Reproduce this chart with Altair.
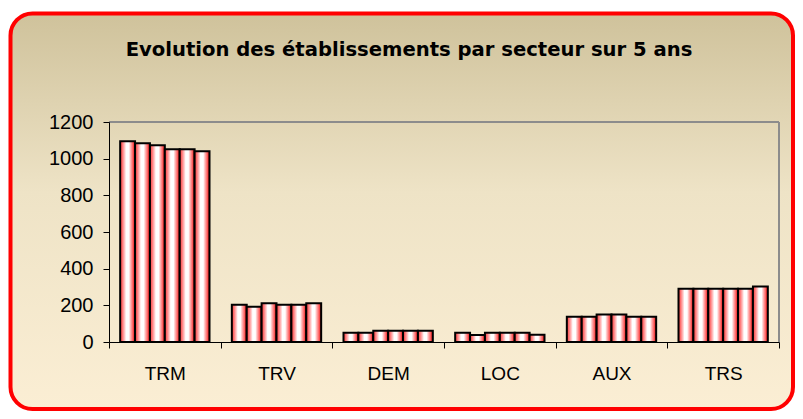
import altair as alt
import pandas as pd

# ---- data ----
categories = ["TRM", "TRV", "DEM", "LOC", "AUX", "TRS"]
years = ["2001", "2002", "2003", "2004", "2005", "2006"]
values = {
    "TRM": [1095, 1084, 1073, 1051, 1051, 1041],
    "TRV": [203, 192, 212, 203, 203, 212],
    "DEM": [50, 50, 61, 61, 61, 61],
    "LOC": [50, 38, 50, 50, 50, 40],
    "AUX": [138, 138, 150, 150, 138, 138],
    "TRS": [290, 290, 290, 290, 290, 303],
}
y_ticks = [0, 200, 400, 600, 800, 1000, 1200]
title_text = "Evolution des établissements par secteur sur 5 ans"

rows = []
for c in categories:
    for yr, v in zip(years, values[c]):
        rows.append({"secteur": c, "annee": yr, "n": v})
df = pd.DataFrame(rows)

W, H = 670, 220
PAD = {"left": 101, "top": 114, "right": 16, "bottom": 69}

one = pd.DataFrame({"k": [0]})

bg = alt.Chart(one).mark_rect(
    cornerRadius=22,
    stroke="#ff0000",
    strokeWidth=4,
    fill=alt.Gradient(
        gradient="linear", x1=0, x2=0, y1=0, y2=1,
        stops=[
            alt.GradientStop(offset=0, color="#cfc29b"),
            alt.GradientStop(offset=0.45, color="#eee3c6"),
            alt.GradientStop(offset=1, color="#fbeed4"),
        ],
    ),
).encode(
    x=alt.value(-98.5), x2=alt.value(W + PAD["right"] - 2),
    y=alt.value(-108.5), y2=alt.value(H + PAD["bottom"] - 2),
)

bar_fill = alt.Gradient(
    gradient="linear", x1=0, x2=1, y1=0, y2=0,
    stops=[
        alt.GradientStop(offset=0.0, color="#ff3c3c"),
        alt.GradientStop(offset=0.14, color="#ff7070"),
        alt.GradientStop(offset=0.3, color="#ffc4c4"),
        alt.GradientStop(offset=0.4, color="#ffffff"),
        alt.GradientStop(offset=0.58, color="#ffffff"),
        alt.GradientStop(offset=0.7, color="#ffb4b4"),
        alt.GradientStop(offset=0.85, color="#ff6060"),
        alt.GradientStop(offset=1.0, color="#d80000"),
    ],
)

bars = alt.Chart(df).mark_bar(
    fill=bar_fill, stroke="#000000", strokeWidth=2, opacity=1
).encode(
    x=alt.X(
        "secteur:N", sort=categories, title=None,
        scale=alt.Scale(paddingInner=0, paddingOuter=0),
        axis=alt.Axis(
            labelAngle=0, labelFontSize=19, labelFont="Liberation Sans",
            labelColor="#000000", labelPadding=16, tickSize=6,
            tickColor="#000000", domainColor="#000000", tickBand="extent",
            zindex=1,
        ),
    ),
    xOffset=alt.XOffset("annee:N", sort=years,
                        scale=alt.Scale(paddingInner=0, paddingOuter=0.75)),
    y=alt.Y(
        "n:Q", title=None,
        scale=alt.Scale(domain=[0, 1200], nice=False),
        axis=alt.Axis(
            values=y_ticks, format="d", labelFontSize=20,
            labelFont="Liberation Sans",
            labelColor="#000000", labelPadding=10, tickSize=6,
            tickColor="#000000", domainColor="#000000", grid=False,
            zindex=1,
        ),
    ),
)

top_rule = alt.Chart(one).mark_rule(color="#8c8c8c", strokeWidth=2).encode(
    x=alt.value(0), x2=alt.value(W), y=alt.value(0)
)
right_rule = alt.Chart(one).mark_rule(color="#8c8c8c", strokeWidth=2).encode(
    x=alt.value(W), y=alt.value(0), y2=alt.value(H)
)

title = alt.Chart(one).mark_text(
    text=title_text, font="DejaVu Sans", fontSize=19.6, fontWeight="bold",
    align="center", baseline="alphabetic", color="#000000",
).encode(x=alt.value(300), y=alt.value(-66))

chart = alt.layer(bg, bars, top_rule, right_rule, title).properties(
    width=W, height=H,
    autosize=alt.AutoSizeParams(type="none"),
    padding=PAD,
).configure_view(stroke=None)

chart.save("out.html", embed_options={"renderer": "svg", "actions": False})
